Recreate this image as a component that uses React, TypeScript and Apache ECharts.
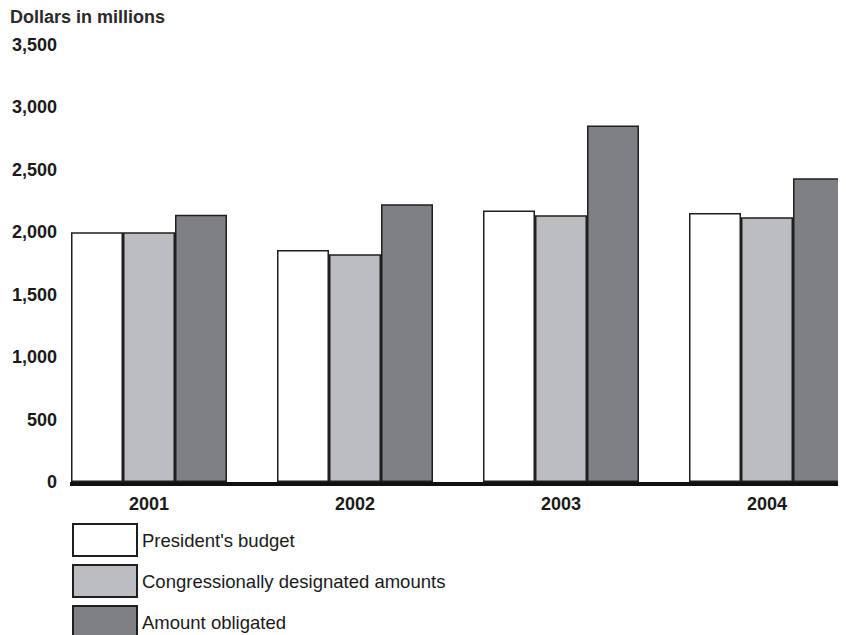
import React, { useEffect, useRef } from "react";
import * as echarts from "echarts";

const years = ["2001", "2002", "2003", "2004"];
const presidentsBudget = [2000, 1858, 2174, 2155];
const congressAmounts = [2000, 1824, 2137, 2121];
const amountObligated = [2140, 2225, 2855, 2433];
const yTicks = { min: 0, max: 3500, interval: 500 };

const FONT = "'Liberation Sans', Arial, Helvetica, sans-serif";
const TEXT = "#1a1a1a";
const BORDER = "#1f1f1f";

export default function App() {
  const ref = useRef<HTMLDivElement>(null);
  useEffect(() => {
    if (!ref.current) return;
    const chart = echarts.init(ref.current, undefined, { renderer: "svg" });
    const barStyle = (color: string) => ({
      color,
      borderColor: BORDER,
      borderWidth: 1.5,
    });
    chart.setOption({
      animation: false,
      backgroundColor: "#ffffff",
      textStyle: { fontFamily: FONT },
      title: {
        text: "Dollars in millions",
        left: 10,
        top: 8,
        padding: 0,
        textStyle: { fontFamily: FONT, fontSize: 18, fontWeight: "bold", color: "#2a2a2a" },
      },
      grid: {
        left: 46,
        width: 824,
        top: 45,
        height: 437,
        containLabel: false,
        outerBoundsMode: "none",
      },
      xAxis: {
        type: "category",
        data: years,
        axisLine: { show: false },
        axisTick: { show: false },
        axisLabel: {
          margin: 13,
          fontFamily: FONT,
          fontSize: 18,
          fontWeight: "bold",
          color: TEXT,
        },
      },
      yAxis: {
        type: "value",
        min: yTicks.min,
        max: yTicks.max,
        interval: yTicks.interval,
        offset: -24,
        axisLine: { show: false },
        axisTick: { show: false },
        splitLine: { show: false },
        axisLabel: {
          margin: 13,
          fontFamily: FONT,
          fontSize: 18,
          fontWeight: "bold",
          color: TEXT,
          formatter: (v: number) => v.toLocaleString("en-US"),
        },
      },
      legend: {
        orient: "vertical",
        left: 72,
        top: 523,
        height: 140,
        padding: 0,
        itemWidth: 64,
        itemHeight: 32,
        itemGap: 7,
        icon: "rect",
        textStyle: { fontFamily: FONT, fontSize: 18.5, color: TEXT },
        data: ["President's budget", "Congressionally designated amounts", "Amount obligated"],
      },
      series: [
        {
          name: "President's budget",
          type: "bar",
          data: presidentsBudget,
          barWidth: 52,
          barGap: "0%",
          itemStyle: barStyle("#ffffff"),
        },
        {
          name: "Congressionally designated amounts",
          type: "bar",
          data: congressAmounts,
          barWidth: 52,
          barGap: "0%",
          itemStyle: barStyle("#bcbdc0"),
        },
        {
          name: "Amount obligated",
          type: "bar",
          data: amountObligated,
          barWidth: 52,
          barGap: "0%",
          itemStyle: barStyle("#7f8084"),
        },
      ],
      graphic: [
        {
          type: "rect",
          left: 70,
          top: 482,
          shape: { width: 776, height: 4 },
          style: { fill: "#111111" },
          z: 10,
        },
      ],
    });
    return () => chart.dispose();
  }, []);
  return <div ref={ref} style={{ width: 846, height: 635, marginLeft: -8, marginTop: -8 }} />;
}
